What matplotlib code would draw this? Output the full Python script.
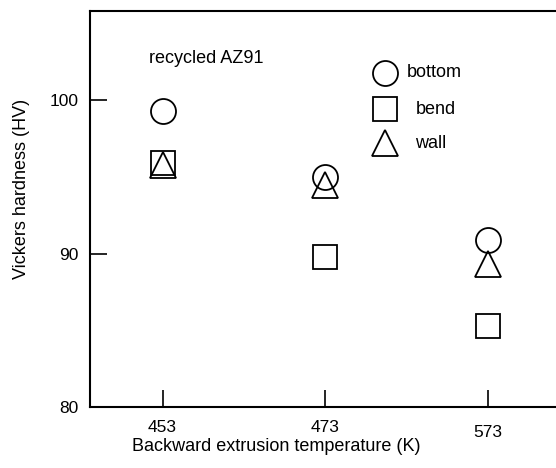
import numpy as np
import matplotlib.pyplot as plt
from matplotlib.transforms import ScaledTranslation

plt.rcParams["font.family"] = ["Liberation Sans", "DejaVu Sans"]

temperatures = ["453", "473", "573"]
bottom = [99.3, 95.0, 90.9]
bend = [95.9, 89.8, 85.3]
wall = [95.8, 94.5, 89.3]

fig = plt.figure(figsize=(5.56, 4.68), dpi=100)
ax = fig.add_axes([0.162, 0.130, 0.838, 0.846])

x = np.arange(len(temperatures))
style = dict(linestyle="none", markerfacecolor="none", markeredgecolor="black",
             markeredgewidth=1.3, clip_on=False)
ax.plot(x, bottom, marker="o", markersize=18, **style)
ax.plot(x, bend, marker="s", markersize=17, **style)
ax.plot(x, wall, marker="^", markersize=19, **style)

# legend drawn by hand, like in the original figure
lx = 1.37
entries = [(101.8, "o", 18, "bottom", 1.50), (99.4, "s", 17, "bend", 1.555), (97.2, "^", 19, "wall", 1.555)]
for yy, m, ms, label, tx in entries:
    ax.plot([lx], [yy], marker=m, markersize=ms, **style)
    ax.text(tx, yy, label, va="center", fontsize=13)

ax.text(0.27, 102.7, "recycled AZ91", ha="center", va="center", fontsize=13)

ax.set_xlim(-0.446, 2.42)
ax.set_ylim(80, 105.8)
ax.set_xticks(x)
ax.set_xticklabels(temperatures, fontsize=12.5)
ax.set_yticks([80, 90, 100])
ax.set_yticklabels(["80", "90", "100"], fontsize=12.5)
ax.tick_params(direction="in", length=12, width=1.2, pad=8)
ax.tick_params(axis="x", pad=9)
ax.spines["right"].set_visible(False)
for s in ["left", "top", "bottom"]:
    ax.spines[s].set_linewidth(1.5)

# last tick label sits a little lower in the original
lab = ax.get_xticklabels()[-1]
lab.set_transform(lab.get_transform() + ScaledTranslation(0, -3.5 / 72, fig.dpi_scale_trans))

ax.set_xlabel("Backward extrusion temperature (K)", fontsize=13)
ax.set_ylabel("Vickers hardness (HV)", fontsize=13)
ax.xaxis.set_label_coords(0.40, -0.077)
ax.yaxis.set_label_coords(-0.13, 0.55)

fig.savefig("out.png", dpi=100)
